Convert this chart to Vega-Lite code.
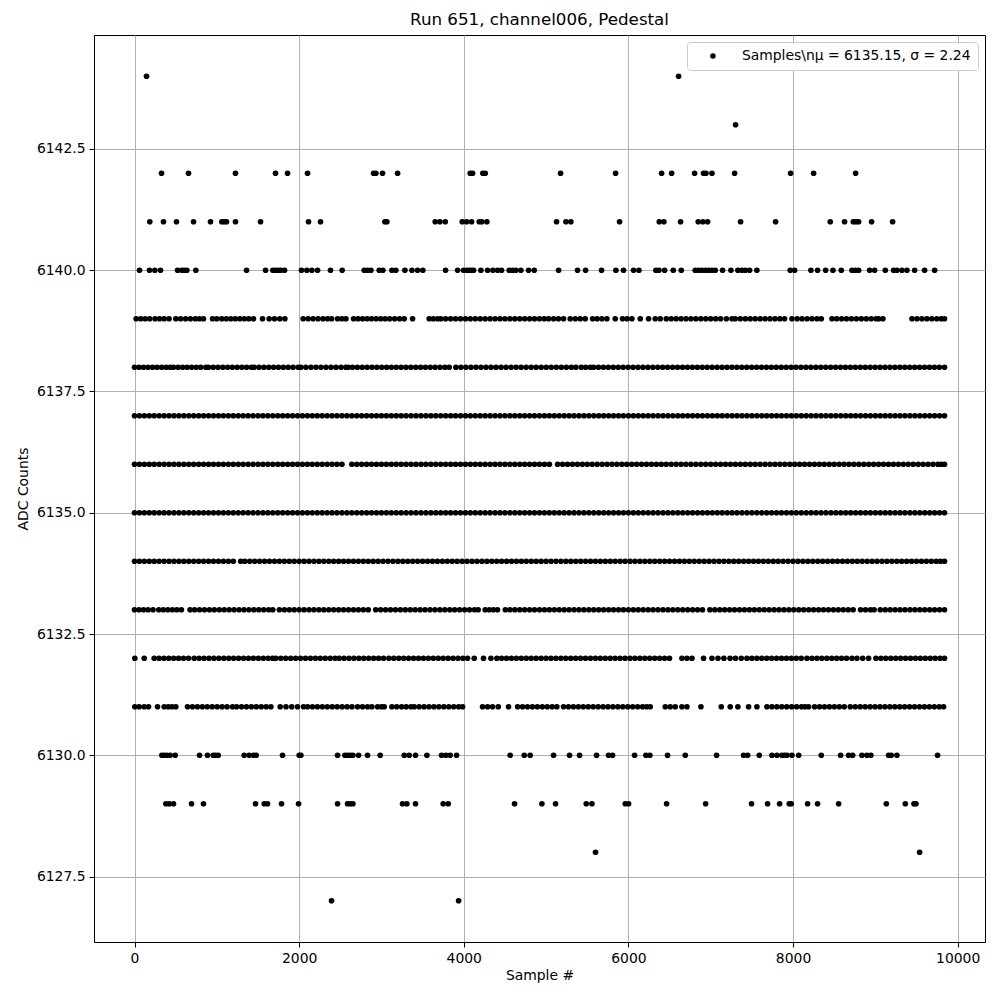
{
"$schema": "https://vega.github.io/schema/vega-lite/v6.json",
"width": 891, "height": 907,
"autosize": {"type": "none"},
"padding": {"left": 94, "top": 35, "right": 15, "bottom": 58},
"background": "white",
"title": {"text": "Run 651, channel006, Pedestal", "fontSize": 16.7, "fontWeight": "normal", "font": "DejaVu Sans", "color": "black", "offset": 6},
"config": {
"view": {"stroke": "black", "strokeWidth": 1},
"axis": {"grid": true, "gridColor": "#b0b0b0", "gridWidth": 1, "domainColor": "black", "tickColor": "black", "tickSize": 5, "labelFont": "DejaVu Sans", "labelFontSize": 13.9, "labelColor": "black", "titleFont": "DejaVu Sans", "titleFontSize": 13.9, "titleFontWeight": "normal", "titleColor": "black", "labelPadding": 4, "labelOverlap": false, "labelFlush": false}
},
"data": {"values": [
{"x":146,"y":6144},{"x":6610,"y":6144},{"x":7302,"y":6143},
{"x":328,"y":6142},{"x":656,"y":6142},{"x":1227,"y":6142},{"x":1713,"y":6142},{"x":1859,"y":6142},{"x":2102,"y":6142},{"x":2904,"y":6142},{"x":2932,"y":6142},{"x":3013,"y":6142},{"x":3196,"y":6142},{"x":4078,"y":6142},{"x":4107,"y":6142},{"x":4232,"y":6142},{"x":4261,"y":6142},{"x":5176,"y":6142},{"x":5844,"y":6142},{"x":6403,"y":6142},{"x":6525,"y":6142},{"x":6804,"y":6142},{"x":6913,"y":6142},{"x":6942,"y":6142},{"x":7015,"y":6142},{"x":7290,"y":6142},{"x":7970,"y":6142},{"x":8250,"y":6142},{"x":8760,"y":6142},
{"x":186,"y":6141},{"x":352,"y":6141},{"x":510,"y":6141},{"x":717,"y":6141},{"x":923,"y":6141},{"x":1061,"y":6141},{"x":1090,"y":6141},{"x":1118,"y":6141},{"x":1227,"y":6141},{"x":1531,"y":6141},{"x":2114,"y":6141},{"x":2260,"y":6141},{"x":3042,"y":6141},{"x":3066,"y":6141},{"x":3653,"y":6141},{"x":3710,"y":6141},{"x":3775,"y":6141},{"x":3981,"y":6141},{"x":4034,"y":6141},{"x":4095,"y":6141},{"x":4188,"y":6141},{"x":4220,"y":6141},{"x":4281,"y":6141},{"x":5127,"y":6141},{"x":5241,"y":6141},{"x":5301,"y":6141},{"x":5893,"y":6141},{"x":6375,"y":6141},{"x":6431,"y":6141},{"x":6634,"y":6141},{"x":6848,"y":6141},{"x":6905,"y":6141},{"x":6962,"y":6141},{"x":7363,"y":6141},{"x":7788,"y":6141},{"x":8452,"y":6141},{"x":8626,"y":6141},{"x":8732,"y":6141},{"x":8764,"y":6141},{"x":8797,"y":6141},{"x":8954,"y":6141},{"x":9210,"y":6141},
{"x":61,"y":6140},{"x":182,"y":6140},{"x":247,"y":6140},{"x":316,"y":6140},{"x":523,"y":6140},{"x":575,"y":6140},{"x":604,"y":6140},{"x":636,"y":6140},{"x":745,"y":6140},{"x":1361,"y":6140},{"x":1592,"y":6140},{"x":1681,"y":6140},{"x":1713,"y":6140},{"x":1746,"y":6140},{"x":1778,"y":6140},{"x":1823,"y":6140},{"x":2029,"y":6140},{"x":2094,"y":6140},{"x":2155,"y":6140},{"x":2224,"y":6140},{"x":2381,"y":6140},{"x":2523,"y":6140},{"x":2791,"y":6140},{"x":2831,"y":6140},{"x":2872,"y":6140},{"x":2973,"y":6140},{"x":3017,"y":6140},{"x":3127,"y":6140},{"x":3175,"y":6140},{"x":3285,"y":6140},{"x":3370,"y":6140},{"x":3439,"y":6140},{"x":3503,"y":6140},{"x":3779,"y":6140},{"x":3925,"y":6140},{"x":3997,"y":6140},{"x":4038,"y":6140},{"x":4066,"y":6140},{"x":4095,"y":6140},{"x":4119,"y":6140},{"x":4208,"y":6140},{"x":4289,"y":6140},{"x":4354,"y":6140},{"x":4411,"y":6140},{"x":4459,"y":6140},{"x":4552,"y":6140},{"x":4593,"y":6140},{"x":4633,"y":6140},{"x":4694,"y":6140},{"x":4787,"y":6140},{"x":4856,"y":6140},{"x":5152,"y":6140},{"x":5382,"y":6140},{"x":5480,"y":6140},{"x":5674,"y":6140},{"x":5848,"y":6140},{"x":5941,"y":6140},{"x":6063,"y":6140},{"x":6128,"y":6140},{"x":6334,"y":6140},{"x":6371,"y":6140},{"x":6440,"y":6140},{"x":6545,"y":6140},{"x":6642,"y":6140},{"x":6812,"y":6140},{"x":6853,"y":6140},{"x":6893,"y":6140},{"x":6934,"y":6140},{"x":6974,"y":6140},{"x":7015,"y":6140},{"x":7055,"y":6140},{"x":7144,"y":6140},{"x":7245,"y":6140},{"x":7330,"y":6140},{"x":7379,"y":6140},{"x":7420,"y":6140},{"x":7472,"y":6140},{"x":7561,"y":6140},{"x":7966,"y":6140},{"x":8019,"y":6140},{"x":8217,"y":6140},{"x":8298,"y":6140},{"x":8396,"y":6140},{"x":8485,"y":6140},{"x":8586,"y":6140},{"x":8716,"y":6140},{"x":8756,"y":6140},{"x":8797,"y":6140},{"x":8930,"y":6140},{"x":8991,"y":6140},{"x":9121,"y":6140},{"x":9222,"y":6140},{"x":9262,"y":6140},{"x":9323,"y":6140},{"x":9384,"y":6140},{"x":9477,"y":6140},{"x":9598,"y":6140},{"x":9720,"y":6140},
{"x":20,"y":6139},{"x":75,"y":6139},{"x":130,"y":6139},{"x":185,"y":6139},{"x":250,"y":6139},{"x":305,"y":6139},{"x":360,"y":6139},{"x":420,"y":6139},{"x":502,"y":6139},{"x":560,"y":6139},{"x":620,"y":6139},{"x":680,"y":6139},{"x":740,"y":6139},{"x":790,"y":6139},{"x":838,"y":6139},{"x":948,"y":6139},{"x":1000,"y":6139},{"x":1060,"y":6139},{"x":1115,"y":6139},{"x":1170,"y":6139},{"x":1225,"y":6139},{"x":1280,"y":6139},{"x":1335,"y":6139},{"x":1390,"y":6139},{"x":1446,"y":6139},{"x":1555,"y":6139},{"x":1636,"y":6139},{"x":1700,"y":6139},{"x":1765,"y":6139},{"x":1827,"y":6139},{"x":2049,"y":6139},{"x":2110,"y":6139},{"x":2170,"y":6139},{"x":2230,"y":6139},{"x":2290,"y":6139},{"x":2345,"y":6139},{"x":2394,"y":6139},{"x":2467,"y":6139},{"x":2520,"y":6139},{"x":2568,"y":6139},{"x":2661,"y":6139},{"x":2715,"y":6139},{"x":2770,"y":6139},{"x":2825,"y":6139},{"x":2880,"y":6139},{"x":2935,"y":6139},{"x":2990,"y":6139},{"x":3045,"y":6139},{"x":3100,"y":6139},{"x":3160,"y":6139},{"x":3220,"y":6139},{"x":3277,"y":6139},{"x":3378,"y":6139},{"x":3580,"y":6139},{"x":3630,"y":6139},{"x":3682,"y":6139},{"x":3722,"y":6139},{"x":3780,"y":6139},{"x":3840,"y":6139},{"x":3900,"y":6139},{"x":3960,"y":6139},{"x":4020,"y":6139},{"x":4080,"y":6139},{"x":4140,"y":6139},{"x":4200,"y":6139},{"x":4260,"y":6139},{"x":4320,"y":6139},{"x":4380,"y":6139},{"x":4440,"y":6139},{"x":4500,"y":6139},{"x":4560,"y":6139},{"x":4620,"y":6139},{"x":4680,"y":6139},{"x":4740,"y":6139},{"x":4800,"y":6139},{"x":4860,"y":6139},{"x":4920,"y":6139},{"x":4978,"y":6139},{"x":5030,"y":6139},{"x":5091,"y":6139},{"x":5150,"y":6139},{"x":5212,"y":6139},{"x":5293,"y":6139},{"x":5355,"y":6139},{"x":5415,"y":6139},{"x":5476,"y":6139},{"x":5565,"y":6139},{"x":5620,"y":6139},{"x":5678,"y":6139},{"x":5739,"y":6139},{"x":5840,"y":6139},{"x":5929,"y":6139},{"x":5985,"y":6139},{"x":6043,"y":6139},{"x":6144,"y":6139},{"x":6245,"y":6139},{"x":6326,"y":6139},{"x":6387,"y":6139},{"x":6460,"y":6139},{"x":6520,"y":6139},{"x":6580,"y":6139},{"x":6640,"y":6139},{"x":6700,"y":6139},{"x":6760,"y":6139},{"x":6820,"y":6139},{"x":6880,"y":6139},{"x":6940,"y":6139},{"x":7000,"y":6139},{"x":7060,"y":6139},{"x":7120,"y":6139},{"x":7190,"y":6139},{"x":7258,"y":6139},{"x":7298,"y":6139},{"x":7360,"y":6139},{"x":7420,"y":6139},{"x":7480,"y":6139},{"x":7540,"y":6139},{"x":7600,"y":6139},{"x":7660,"y":6139},{"x":7720,"y":6139},{"x":7780,"y":6139},{"x":7840,"y":6139},{"x":7897,"y":6139},{"x":7987,"y":6139},{"x":8050,"y":6139},{"x":8110,"y":6139},{"x":8170,"y":6139},{"x":8230,"y":6139},{"x":8290,"y":6139},{"x":8343,"y":6139},{"x":8473,"y":6139},{"x":8530,"y":6139},{"x":8590,"y":6139},{"x":8650,"y":6139},{"x":8710,"y":6139},{"x":8770,"y":6139},{"x":8830,"y":6139},{"x":8890,"y":6139},{"x":8950,"y":6139},{"x":9010,"y":6139},{"x":9040,"y":6139},{"x":9092,"y":6139},{"x":9445,"y":6139},{"x":9505,"y":6139},{"x":9565,"y":6139},{"x":9625,"y":6139},{"x":9685,"y":6139},{"x":9745,"y":6139},{"x":9800,"y":6139},{"x":9840,"y":6139},
{"x":0,"y":6138},{"x":55,"y":6138},{"x":110,"y":6138},{"x":165,"y":6138},{"x":220,"y":6138},{"x":275,"y":6138},{"x":330,"y":6138},{"x":385,"y":6138},{"x":433,"y":6138},{"x":474,"y":6138},{"x":530,"y":6138},{"x":585,"y":6138},{"x":640,"y":6138},{"x":695,"y":6138},{"x":750,"y":6138},{"x":805,"y":6138},{"x":867,"y":6138},{"x":899,"y":6138},{"x":957,"y":6138},{"x":1015,"y":6138},{"x":1073,"y":6138},{"x":1131,"y":6138},{"x":1189,"y":6138},{"x":1247,"y":6138},{"x":1305,"y":6138},{"x":1363,"y":6138},{"x":1422,"y":6138},{"x":1454,"y":6138},{"x":1513,"y":6138},{"x":1572,"y":6138},{"x":1631,"y":6138},{"x":1690,"y":6138},{"x":1749,"y":6138},{"x":1808,"y":6138},{"x":1867,"y":6138},{"x":1926,"y":6138},{"x":1989,"y":6138},{"x":2021,"y":6138},{"x":2082,"y":6138},{"x":2143,"y":6138},{"x":2204,"y":6138},{"x":2265,"y":6138},{"x":2326,"y":6138},{"x":2387,"y":6138},{"x":2448,"y":6138},{"x":2509,"y":6138},{"x":2568,"y":6138},{"x":2596,"y":6138},{"x":2649,"y":6138},{"x":2708,"y":6138},{"x":2767,"y":6138},{"x":2826,"y":6138},{"x":2885,"y":6138},{"x":2944,"y":6138},{"x":3003,"y":6138},{"x":3062,"y":6138},{"x":3121,"y":6138},{"x":3180,"y":6138},{"x":3239,"y":6138},{"x":3298,"y":6138},{"x":3357,"y":6138},{"x":3416,"y":6138},{"x":3475,"y":6138},{"x":3534,"y":6138},{"x":3593,"y":6138},{"x":3652,"y":6138},{"x":3711,"y":6138},{"x":3770,"y":6138},{"x":3823,"y":6138},{"x":3904,"y":6138},{"x":3965,"y":6138},{"x":4026,"y":6138},{"x":4087,"y":6138},{"x":4148,"y":6138},{"x":4209,"y":6138},{"x":4270,"y":6138},{"x":4331,"y":6138},{"x":4392,"y":6138},{"x":4453,"y":6138},{"x":4514,"y":6138},{"x":4575,"y":6138},{"x":4636,"y":6138},{"x":4697,"y":6138},{"x":4758,"y":6138},{"x":4819,"y":6138},{"x":4880,"y":6138},{"x":4941,"y":6138},{"x":5002,"y":6138},{"x":5063,"y":6138},{"x":5124,"y":6138},{"x":5185,"y":6138},{"x":5246,"y":6138},{"x":5307,"y":6138},{"x":5362,"y":6138},{"x":5427,"y":6138},{"x":5480,"y":6138},{"x":5536,"y":6138},{"x":5577,"y":6138},{"x":5637,"y":6138},{"x":5697,"y":6138},{"x":5757,"y":6138},{"x":5817,"y":6138},{"x":5877,"y":6138},{"x":5937,"y":6138},{"x":5997,"y":6138},{"x":6057,"y":6138},{"x":6117,"y":6138},{"x":6177,"y":6138},{"x":6237,"y":6138},{"x":6297,"y":6138},{"x":6357,"y":6138},{"x":6417,"y":6138},{"x":6477,"y":6138},{"x":6537,"y":6138},{"x":6597,"y":6138},{"x":6657,"y":6138},{"x":6717,"y":6138},{"x":6777,"y":6138},{"x":6837,"y":6138},{"x":6897,"y":6138},{"x":6957,"y":6138},{"x":7017,"y":6138},{"x":7077,"y":6138},{"x":7137,"y":6138},{"x":7197,"y":6138},{"x":7257,"y":6138},{"x":7317,"y":6138},{"x":7377,"y":6138},{"x":7437,"y":6138},{"x":7497,"y":6138},{"x":7557,"y":6138},{"x":7617,"y":6138},{"x":7677,"y":6138},{"x":7737,"y":6138},{"x":7797,"y":6138},{"x":7857,"y":6138},{"x":7917,"y":6138},{"x":7977,"y":6138},{"x":8037,"y":6138},{"x":8097,"y":6138},{"x":8157,"y":6138},{"x":8217,"y":6138},{"x":8277,"y":6138},{"x":8337,"y":6138},{"x":8397,"y":6138},{"x":8457,"y":6138},{"x":8517,"y":6138},{"x":8577,"y":6138},{"x":8637,"y":6138},{"x":8697,"y":6138},{"x":8757,"y":6138},{"x":8817,"y":6138},{"x":8877,"y":6138},{"x":8937,"y":6138},{"x":8997,"y":6138},{"x":9057,"y":6138},{"x":9117,"y":6138},{"x":9177,"y":6138},{"x":9237,"y":6138},{"x":9297,"y":6138},{"x":9357,"y":6138},{"x":9417,"y":6138},{"x":9477,"y":6138},{"x":9537,"y":6138},{"x":9597,"y":6138},{"x":9657,"y":6138},{"x":9717,"y":6138},{"x":9777,"y":6138},{"x":9840,"y":6138},
{"x":0,"y":6137},{"x":60,"y":6137},{"x":120,"y":6137},{"x":180,"y":6137},{"x":240,"y":6137},{"x":300,"y":6137},{"x":360,"y":6137},{"x":420,"y":6137},{"x":480,"y":6137},{"x":540,"y":6137},{"x":600,"y":6137},{"x":660,"y":6137},{"x":720,"y":6137},{"x":780,"y":6137},{"x":840,"y":6137},{"x":900,"y":6137},{"x":960,"y":6137},{"x":1020,"y":6137},{"x":1080,"y":6137},{"x":1140,"y":6137},{"x":1200,"y":6137},{"x":1260,"y":6137},{"x":1320,"y":6137},{"x":1380,"y":6137},{"x":1440,"y":6137},{"x":1500,"y":6137},{"x":1560,"y":6137},{"x":1620,"y":6137},{"x":1680,"y":6137},{"x":1740,"y":6137},{"x":1800,"y":6137},{"x":1860,"y":6137},{"x":1920,"y":6137},{"x":1980,"y":6137},{"x":2040,"y":6137},{"x":2100,"y":6137},{"x":2160,"y":6137},{"x":2220,"y":6137},{"x":2280,"y":6137},{"x":2340,"y":6137},{"x":2400,"y":6137},{"x":2460,"y":6137},{"x":2520,"y":6137},{"x":2580,"y":6137},{"x":2640,"y":6137},{"x":2700,"y":6137},{"x":2760,"y":6137},{"x":2820,"y":6137},{"x":2880,"y":6137},{"x":2940,"y":6137},{"x":3000,"y":6137},{"x":3060,"y":6137},{"x":3120,"y":6137},{"x":3180,"y":6137},{"x":3240,"y":6137},{"x":3300,"y":6137},{"x":3360,"y":6137},{"x":3420,"y":6137},{"x":3480,"y":6137},{"x":3540,"y":6137},{"x":3600,"y":6137},{"x":3660,"y":6137},{"x":3720,"y":6137},{"x":3780,"y":6137},{"x":3840,"y":6137},{"x":3900,"y":6137},{"x":3960,"y":6137},{"x":4020,"y":6137},{"x":4080,"y":6137},{"x":4140,"y":6137},{"x":4200,"y":6137},{"x":4260,"y":6137},{"x":4320,"y":6137},{"x":4380,"y":6137},{"x":4440,"y":6137},{"x":4500,"y":6137},{"x":4560,"y":6137},{"x":4620,"y":6137},{"x":4680,"y":6137},{"x":4740,"y":6137},{"x":4800,"y":6137},{"x":4860,"y":6137},{"x":4920,"y":6137},{"x":4980,"y":6137},{"x":5040,"y":6137},{"x":5100,"y":6137},{"x":5160,"y":6137},{"x":5220,"y":6137},{"x":5280,"y":6137},{"x":5340,"y":6137},{"x":5400,"y":6137},{"x":5460,"y":6137},{"x":5520,"y":6137},{"x":5580,"y":6137},{"x":5640,"y":6137},{"x":5700,"y":6137},{"x":5760,"y":6137},{"x":5820,"y":6137},{"x":5880,"y":6137},{"x":5940,"y":6137},{"x":6000,"y":6137},{"x":6060,"y":6137},{"x":6120,"y":6137},{"x":6180,"y":6137},{"x":6240,"y":6137},{"x":6300,"y":6137},{"x":6360,"y":6137},{"x":6420,"y":6137},{"x":6480,"y":6137},{"x":6540,"y":6137},{"x":6600,"y":6137},{"x":6660,"y":6137},{"x":6720,"y":6137},{"x":6780,"y":6137},{"x":6840,"y":6137},{"x":6900,"y":6137},{"x":6960,"y":6137},{"x":7020,"y":6137},{"x":7080,"y":6137},{"x":7140,"y":6137},{"x":7200,"y":6137},{"x":7260,"y":6137},{"x":7320,"y":6137},{"x":7380,"y":6137},{"x":7440,"y":6137},{"x":7500,"y":6137},{"x":7560,"y":6137},{"x":7620,"y":6137},{"x":7680,"y":6137},{"x":7740,"y":6137},{"x":7800,"y":6137},{"x":7860,"y":6137},{"x":7920,"y":6137},{"x":7980,"y":6137},{"x":8040,"y":6137},{"x":8100,"y":6137},{"x":8160,"y":6137},{"x":8220,"y":6137},{"x":8280,"y":6137},{"x":8340,"y":6137},{"x":8400,"y":6137},{"x":8460,"y":6137},{"x":8520,"y":6137},{"x":8580,"y":6137},{"x":8640,"y":6137},{"x":8700,"y":6137},{"x":8760,"y":6137},{"x":8820,"y":6137},{"x":8880,"y":6137},{"x":8940,"y":6137},{"x":9000,"y":6137},{"x":9060,"y":6137},{"x":9120,"y":6137},{"x":9180,"y":6137},{"x":9240,"y":6137},{"x":9300,"y":6137},{"x":9360,"y":6137},{"x":9420,"y":6137},{"x":9480,"y":6137},{"x":9540,"y":6137},{"x":9600,"y":6137},{"x":9660,"y":6137},{"x":9720,"y":6137},{"x":9780,"y":6137},{"x":9840,"y":6137},
{"x":0,"y":6136},{"x":60,"y":6136},{"x":120,"y":6136},{"x":180,"y":6136},{"x":240,"y":6136},{"x":300,"y":6136},{"x":360,"y":6136},{"x":420,"y":6136},{"x":480,"y":6136},{"x":540,"y":6136},{"x":600,"y":6136},{"x":660,"y":6136},{"x":720,"y":6136},{"x":780,"y":6136},{"x":840,"y":6136},{"x":900,"y":6136},{"x":960,"y":6136},{"x":1020,"y":6136},{"x":1080,"y":6136},{"x":1140,"y":6136},{"x":1200,"y":6136},{"x":1260,"y":6136},{"x":1320,"y":6136},{"x":1380,"y":6136},{"x":1440,"y":6136},{"x":1500,"y":6136},{"x":1560,"y":6136},{"x":1620,"y":6136},{"x":1680,"y":6136},{"x":1740,"y":6136},{"x":1800,"y":6136},{"x":1860,"y":6136},{"x":1920,"y":6136},{"x":1980,"y":6136},{"x":2040,"y":6136},{"x":2100,"y":6136},{"x":2160,"y":6136},{"x":2220,"y":6136},{"x":2280,"y":6136},{"x":2340,"y":6136},{"x":2400,"y":6136},{"x":2460,"y":6136},{"x":2520,"y":6136},{"x":2640,"y":6136},{"x":2700,"y":6136},{"x":2760,"y":6136},{"x":2820,"y":6136},{"x":2880,"y":6136},{"x":2940,"y":6136},{"x":3000,"y":6136},{"x":3060,"y":6136},{"x":3120,"y":6136},{"x":3180,"y":6136},{"x":3240,"y":6136},{"x":3300,"y":6136},{"x":3360,"y":6136},{"x":3420,"y":6136},{"x":3480,"y":6136},{"x":3540,"y":6136},{"x":3600,"y":6136},{"x":3660,"y":6136},{"x":3720,"y":6136},{"x":3780,"y":6136},{"x":3840,"y":6136},{"x":3900,"y":6136},{"x":3960,"y":6136},{"x":4020,"y":6136},{"x":4080,"y":6136},{"x":4140,"y":6136},{"x":4200,"y":6136},{"x":4260,"y":6136},{"x":4320,"y":6136},{"x":4380,"y":6136},{"x":4440,"y":6136},{"x":4500,"y":6136},{"x":4560,"y":6136},{"x":4620,"y":6136},{"x":4680,"y":6136},{"x":4740,"y":6136},{"x":4800,"y":6136},{"x":4860,"y":6136},{"x":4920,"y":6136},{"x":4980,"y":6136},{"x":5040,"y":6136},{"x":5140,"y":6136},{"x":5200,"y":6136},{"x":5260,"y":6136},{"x":5320,"y":6136},{"x":5380,"y":6136},{"x":5440,"y":6136},{"x":5500,"y":6136},{"x":5560,"y":6136},{"x":5620,"y":6136},{"x":5680,"y":6136},{"x":5740,"y":6136},{"x":5800,"y":6136},{"x":5860,"y":6136},{"x":5920,"y":6136},{"x":5980,"y":6136},{"x":6040,"y":6136},{"x":6100,"y":6136},{"x":6160,"y":6136},{"x":6220,"y":6136},{"x":6280,"y":6136},{"x":6340,"y":6136},{"x":6400,"y":6136},{"x":6460,"y":6136},{"x":6520,"y":6136},{"x":6580,"y":6136},{"x":6640,"y":6136},{"x":6700,"y":6136},{"x":6760,"y":6136},{"x":6820,"y":6136},{"x":6880,"y":6136},{"x":6940,"y":6136},{"x":7000,"y":6136},{"x":7060,"y":6136},{"x":7120,"y":6136},{"x":7180,"y":6136},{"x":7240,"y":6136},{"x":7300,"y":6136},{"x":7360,"y":6136},{"x":7420,"y":6136},{"x":7480,"y":6136},{"x":7540,"y":6136},{"x":7600,"y":6136},{"x":7660,"y":6136},{"x":7720,"y":6136},{"x":7780,"y":6136},{"x":7840,"y":6136},{"x":7900,"y":6136},{"x":7960,"y":6136},{"x":8020,"y":6136},{"x":8080,"y":6136},{"x":8140,"y":6136},{"x":8200,"y":6136},{"x":8260,"y":6136},{"x":8320,"y":6136},{"x":8380,"y":6136},{"x":8440,"y":6136},{"x":8500,"y":6136},{"x":8560,"y":6136},{"x":8620,"y":6136},{"x":8680,"y":6136},{"x":8740,"y":6136},{"x":8800,"y":6136},{"x":8860,"y":6136},{"x":8920,"y":6136},{"x":8980,"y":6136},{"x":9040,"y":6136},{"x":9100,"y":6136},{"x":9160,"y":6136},{"x":9220,"y":6136},{"x":9280,"y":6136},{"x":9340,"y":6136},{"x":9400,"y":6136},{"x":9460,"y":6136},{"x":9520,"y":6136},{"x":9580,"y":6136},{"x":9640,"y":6136},{"x":9700,"y":6136},{"x":9760,"y":6136},{"x":9840,"y":6136},{"x":9800,"y":6136},
{"x":0,"y":6135},{"x":60,"y":6135},{"x":120,"y":6135},{"x":180,"y":6135},{"x":240,"y":6135},{"x":300,"y":6135},{"x":360,"y":6135},{"x":420,"y":6135},{"x":480,"y":6135},{"x":540,"y":6135},{"x":600,"y":6135},{"x":660,"y":6135},{"x":720,"y":6135},{"x":780,"y":6135},{"x":840,"y":6135},{"x":900,"y":6135},{"x":960,"y":6135},{"x":1020,"y":6135},{"x":1080,"y":6135},{"x":1140,"y":6135},{"x":1200,"y":6135},{"x":1260,"y":6135},{"x":1320,"y":6135},{"x":1380,"y":6135},{"x":1440,"y":6135},{"x":1500,"y":6135},{"x":1560,"y":6135},{"x":1620,"y":6135},{"x":1680,"y":6135},{"x":1740,"y":6135},{"x":1800,"y":6135},{"x":1860,"y":6135},{"x":1920,"y":6135},{"x":1980,"y":6135},{"x":2040,"y":6135},{"x":2100,"y":6135},{"x":2160,"y":6135},{"x":2220,"y":6135},{"x":2280,"y":6135},{"x":2340,"y":6135},{"x":2400,"y":6135},{"x":2460,"y":6135},{"x":2520,"y":6135},{"x":2580,"y":6135},{"x":2640,"y":6135},{"x":2700,"y":6135},{"x":2760,"y":6135},{"x":2820,"y":6135},{"x":2880,"y":6135},{"x":2940,"y":6135},{"x":3000,"y":6135},{"x":3060,"y":6135},{"x":3120,"y":6135},{"x":3180,"y":6135},{"x":3240,"y":6135},{"x":3300,"y":6135},{"x":3360,"y":6135},{"x":3420,"y":6135},{"x":3480,"y":6135},{"x":3540,"y":6135},{"x":3600,"y":6135},{"x":3660,"y":6135},{"x":3720,"y":6135},{"x":3780,"y":6135},{"x":3840,"y":6135},{"x":3900,"y":6135},{"x":3960,"y":6135},{"x":4020,"y":6135},{"x":4080,"y":6135},{"x":4140,"y":6135},{"x":4200,"y":6135},{"x":4260,"y":6135},{"x":4320,"y":6135},{"x":4380,"y":6135},{"x":4440,"y":6135},{"x":4500,"y":6135},{"x":4560,"y":6135},{"x":4620,"y":6135},{"x":4680,"y":6135},{"x":4740,"y":6135},{"x":4800,"y":6135},{"x":4860,"y":6135},{"x":4920,"y":6135},{"x":4980,"y":6135},{"x":5040,"y":6135},{"x":5100,"y":6135},{"x":5160,"y":6135},{"x":5220,"y":6135},{"x":5280,"y":6135},{"x":5340,"y":6135},{"x":5400,"y":6135},{"x":5460,"y":6135},{"x":5520,"y":6135},{"x":5580,"y":6135},{"x":5640,"y":6135},{"x":5700,"y":6135},{"x":5760,"y":6135},{"x":5820,"y":6135},{"x":5880,"y":6135},{"x":5940,"y":6135},{"x":6000,"y":6135},{"x":6060,"y":6135},{"x":6120,"y":6135},{"x":6180,"y":6135},{"x":6240,"y":6135},{"x":6300,"y":6135},{"x":6360,"y":6135},{"x":6420,"y":6135},{"x":6480,"y":6135},{"x":6540,"y":6135},{"x":6600,"y":6135},{"x":6660,"y":6135},{"x":6720,"y":6135},{"x":6780,"y":6135},{"x":6840,"y":6135},{"x":6900,"y":6135},{"x":6960,"y":6135},{"x":7020,"y":6135},{"x":7080,"y":6135},{"x":7140,"y":6135},{"x":7200,"y":6135},{"x":7260,"y":6135},{"x":7320,"y":6135},{"x":7380,"y":6135},{"x":7440,"y":6135},{"x":7500,"y":6135},{"x":7560,"y":6135},{"x":7620,"y":6135},{"x":7680,"y":6135},{"x":7740,"y":6135},{"x":7800,"y":6135},{"x":7860,"y":6135},{"x":7920,"y":6135},{"x":7980,"y":6135},{"x":8040,"y":6135},{"x":8100,"y":6135},{"x":8160,"y":6135},{"x":8220,"y":6135},{"x":8280,"y":6135},{"x":8340,"y":6135},{"x":8400,"y":6135},{"x":8460,"y":6135},{"x":8520,"y":6135},{"x":8580,"y":6135},{"x":8640,"y":6135},{"x":8700,"y":6135},{"x":8760,"y":6135},{"x":8820,"y":6135},{"x":8880,"y":6135},{"x":8940,"y":6135},{"x":9000,"y":6135},{"x":9060,"y":6135},{"x":9120,"y":6135},{"x":9180,"y":6135},{"x":9240,"y":6135},{"x":9300,"y":6135},{"x":9360,"y":6135},{"x":9420,"y":6135},{"x":9480,"y":6135},{"x":9540,"y":6135},{"x":9600,"y":6135},{"x":9660,"y":6135},{"x":9720,"y":6135},{"x":9780,"y":6135},{"x":9840,"y":6135},
{"x":0,"y":6134},{"x":60,"y":6134},{"x":120,"y":6134},{"x":180,"y":6134},{"x":240,"y":6134},{"x":300,"y":6134},{"x":360,"y":6134},{"x":420,"y":6134},{"x":480,"y":6134},{"x":540,"y":6134},{"x":600,"y":6134},{"x":660,"y":6134},{"x":720,"y":6134},{"x":780,"y":6134},{"x":840,"y":6134},{"x":900,"y":6134},{"x":960,"y":6134},{"x":1020,"y":6134},{"x":1080,"y":6134},{"x":1140,"y":6134},{"x":1200,"y":6134},{"x":1290,"y":6134},{"x":1340,"y":6134},{"x":1400,"y":6134},{"x":1460,"y":6134},{"x":1520,"y":6134},{"x":1580,"y":6134},{"x":1640,"y":6134},{"x":1700,"y":6134},{"x":1760,"y":6134},{"x":1820,"y":6134},{"x":1880,"y":6134},{"x":1940,"y":6134},{"x":2000,"y":6134},{"x":2060,"y":6134},{"x":2120,"y":6134},{"x":2180,"y":6134},{"x":2240,"y":6134},{"x":2300,"y":6134},{"x":2360,"y":6134},{"x":2420,"y":6134},{"x":2480,"y":6134},{"x":2540,"y":6134},{"x":2600,"y":6134},{"x":2660,"y":6134},{"x":2720,"y":6134},{"x":2780,"y":6134},{"x":2840,"y":6134},{"x":2900,"y":6134},{"x":2960,"y":6134},{"x":3020,"y":6134},{"x":3080,"y":6134},{"x":3140,"y":6134},{"x":3200,"y":6134},{"x":3260,"y":6134},{"x":3320,"y":6134},{"x":3380,"y":6134},{"x":3440,"y":6134},{"x":3500,"y":6134},{"x":3560,"y":6134},{"x":3620,"y":6134},{"x":3680,"y":6134},{"x":3740,"y":6134},{"x":3800,"y":6134},{"x":3860,"y":6134},{"x":3920,"y":6134},{"x":3980,"y":6134},{"x":4040,"y":6134},{"x":4100,"y":6134},{"x":4160,"y":6134},{"x":4220,"y":6134},{"x":4280,"y":6134},{"x":4340,"y":6134},{"x":4400,"y":6134},{"x":4460,"y":6134},{"x":4520,"y":6134},{"x":4580,"y":6134},{"x":4640,"y":6134},{"x":4700,"y":6134},{"x":4760,"y":6134},{"x":4820,"y":6134},{"x":4880,"y":6134},{"x":4940,"y":6134},{"x":5000,"y":6134},{"x":5060,"y":6134},{"x":5120,"y":6134},{"x":5180,"y":6134},{"x":5240,"y":6134},{"x":5300,"y":6134},{"x":5360,"y":6134},{"x":5420,"y":6134},{"x":5480,"y":6134},{"x":5540,"y":6134},{"x":5600,"y":6134},{"x":5660,"y":6134},{"x":5720,"y":6134},{"x":5780,"y":6134},{"x":5840,"y":6134},{"x":5900,"y":6134},{"x":5960,"y":6134},{"x":6020,"y":6134},{"x":6080,"y":6134},{"x":6140,"y":6134},{"x":6200,"y":6134},{"x":6260,"y":6134},{"x":6320,"y":6134},{"x":6380,"y":6134},{"x":6440,"y":6134},{"x":6500,"y":6134},{"x":6560,"y":6134},{"x":6620,"y":6134},{"x":6680,"y":6134},{"x":6740,"y":6134},{"x":6800,"y":6134},{"x":6860,"y":6134},{"x":6920,"y":6134},{"x":6980,"y":6134},{"x":7040,"y":6134},{"x":7100,"y":6134},{"x":7160,"y":6134},{"x":7220,"y":6134},{"x":7280,"y":6134},{"x":7340,"y":6134},{"x":7400,"y":6134},{"x":7460,"y":6134},{"x":7520,"y":6134},{"x":7580,"y":6134},{"x":7640,"y":6134},{"x":7700,"y":6134},{"x":7760,"y":6134},{"x":7820,"y":6134},{"x":7880,"y":6134},{"x":7940,"y":6134},{"x":8000,"y":6134},{"x":8060,"y":6134},{"x":8120,"y":6134},{"x":8180,"y":6134},{"x":8240,"y":6134},{"x":8300,"y":6134},{"x":8360,"y":6134},{"x":8420,"y":6134},{"x":8480,"y":6134},{"x":8540,"y":6134},{"x":8600,"y":6134},{"x":8660,"y":6134},{"x":8720,"y":6134},{"x":8780,"y":6134},{"x":8840,"y":6134},{"x":8900,"y":6134},{"x":8960,"y":6134},{"x":9020,"y":6134},{"x":9080,"y":6134},{"x":9140,"y":6134},{"x":9200,"y":6134},{"x":9260,"y":6134},{"x":9320,"y":6134},{"x":9380,"y":6134},{"x":9440,"y":6134},{"x":9500,"y":6134},{"x":9560,"y":6134},{"x":9620,"y":6134},{"x":9680,"y":6134},{"x":9740,"y":6134},{"x":9790,"y":6134},{"x":9840,"y":6134},
{"x":0,"y":6133},{"x":55,"y":6133},{"x":110,"y":6133},{"x":165,"y":6133},{"x":225,"y":6133},{"x":295,"y":6133},{"x":350,"y":6133},{"x":405,"y":6133},{"x":460,"y":6133},{"x":515,"y":6133},{"x":570,"y":6133},{"x":675,"y":6133},{"x":730,"y":6133},{"x":790,"y":6133},{"x":850,"y":6133},{"x":910,"y":6133},{"x":970,"y":6133},{"x":1030,"y":6133},{"x":1090,"y":6133},{"x":1150,"y":6133},{"x":1210,"y":6133},{"x":1270,"y":6133},{"x":1330,"y":6133},{"x":1390,"y":6133},{"x":1450,"y":6133},{"x":1510,"y":6133},{"x":1570,"y":6133},{"x":1630,"y":6133},{"x":1680,"y":6133},{"x":1760,"y":6133},{"x":1820,"y":6133},{"x":1880,"y":6133},{"x":1940,"y":6133},{"x":2000,"y":6133},{"x":2060,"y":6133},{"x":2120,"y":6133},{"x":2180,"y":6133},{"x":2240,"y":6133},{"x":2300,"y":6133},{"x":2360,"y":6133},{"x":2420,"y":6133},{"x":2480,"y":6133},{"x":2540,"y":6133},{"x":2600,"y":6133},{"x":2660,"y":6133},{"x":2720,"y":6133},{"x":2780,"y":6133},{"x":2840,"y":6133},{"x":2930,"y":6133},{"x":2990,"y":6133},{"x":3050,"y":6133},{"x":3110,"y":6133},{"x":3170,"y":6133},{"x":3230,"y":6133},{"x":3290,"y":6133},{"x":3350,"y":6133},{"x":3410,"y":6133},{"x":3470,"y":6133},{"x":3530,"y":6133},{"x":3590,"y":6133},{"x":3650,"y":6133},{"x":3710,"y":6133},{"x":3770,"y":6133},{"x":3830,"y":6133},{"x":3890,"y":6133},{"x":3950,"y":6133},{"x":4010,"y":6133},{"x":4070,"y":6133},{"x":4130,"y":6133},{"x":4175,"y":6133},{"x":4260,"y":6133},{"x":4310,"y":6133},{"x":4360,"y":6133},{"x":4410,"y":6133},{"x":4505,"y":6133},{"x":4560,"y":6133},{"x":4620,"y":6133},{"x":4680,"y":6133},{"x":4740,"y":6133},{"x":4800,"y":6133},{"x":4860,"y":6133},{"x":4920,"y":6133},{"x":4980,"y":6133},{"x":5040,"y":6133},{"x":5100,"y":6133},{"x":5160,"y":6133},{"x":5220,"y":6133},{"x":5280,"y":6133},{"x":5340,"y":6133},{"x":5400,"y":6133},{"x":5460,"y":6133},{"x":5520,"y":6133},{"x":5580,"y":6133},{"x":5640,"y":6133},{"x":5700,"y":6133},{"x":5760,"y":6133},{"x":5820,"y":6133},{"x":5880,"y":6133},{"x":5940,"y":6133},{"x":6000,"y":6133},{"x":6060,"y":6133},{"x":6120,"y":6133},{"x":6180,"y":6133},{"x":6240,"y":6133},{"x":6300,"y":6133},{"x":6360,"y":6133},{"x":6420,"y":6133},{"x":6480,"y":6133},{"x":6540,"y":6133},{"x":6600,"y":6133},{"x":6660,"y":6133},{"x":6720,"y":6133},{"x":6780,"y":6133},{"x":6840,"y":6133},{"x":6900,"y":6133},{"x":6990,"y":6133},{"x":7050,"y":6133},{"x":7110,"y":6133},{"x":7170,"y":6133},{"x":7230,"y":6133},{"x":7290,"y":6133},{"x":7350,"y":6133},{"x":7410,"y":6133},{"x":7470,"y":6133},{"x":7530,"y":6133},{"x":7590,"y":6133},{"x":7650,"y":6133},{"x":7710,"y":6133},{"x":7770,"y":6133},{"x":7830,"y":6133},{"x":7890,"y":6133},{"x":7950,"y":6133},{"x":8010,"y":6133},{"x":8070,"y":6133},{"x":8130,"y":6133},{"x":8190,"y":6133},{"x":8250,"y":6133},{"x":8310,"y":6133},{"x":8370,"y":6133},{"x":8430,"y":6133},{"x":8490,"y":6133},{"x":8550,"y":6133},{"x":8610,"y":6133},{"x":8670,"y":6133},{"x":8730,"y":6133},{"x":8820,"y":6133},{"x":8880,"y":6133},{"x":8940,"y":6133},{"x":8985,"y":6133},{"x":9060,"y":6133},{"x":9120,"y":6133},{"x":9180,"y":6133},{"x":9240,"y":6133},{"x":9300,"y":6133},{"x":9360,"y":6133},{"x":9420,"y":6133},{"x":9480,"y":6133},{"x":9540,"y":6133},{"x":9600,"y":6133},{"x":9660,"y":6133},{"x":9720,"y":6133},{"x":9780,"y":6133},{"x":9840,"y":6133},
{"x":4,"y":6132},{"x":118,"y":6132},{"x":239,"y":6132},{"x":298,"y":6132},{"x":357,"y":6132},{"x":416,"y":6132},{"x":475,"y":6132},{"x":535,"y":6132},{"x":595,"y":6132},{"x":656,"y":6132},{"x":725,"y":6132},{"x":785,"y":6132},{"x":845,"y":6132},{"x":905,"y":6132},{"x":965,"y":6132},{"x":1025,"y":6132},{"x":1085,"y":6132},{"x":1145,"y":6132},{"x":1205,"y":6132},{"x":1265,"y":6132},{"x":1325,"y":6132},{"x":1385,"y":6132},{"x":1445,"y":6132},{"x":1505,"y":6132},{"x":1565,"y":6132},{"x":1625,"y":6132},{"x":1677,"y":6132},{"x":1717,"y":6132},{"x":1777,"y":6132},{"x":1837,"y":6132},{"x":1897,"y":6132},{"x":1957,"y":6132},{"x":2017,"y":6132},{"x":2077,"y":6132},{"x":2137,"y":6132},{"x":2197,"y":6132},{"x":2257,"y":6132},{"x":2317,"y":6132},{"x":2377,"y":6132},{"x":2437,"y":6132},{"x":2487,"y":6132},{"x":2545,"y":6132},{"x":2605,"y":6132},{"x":2665,"y":6132},{"x":2725,"y":6132},{"x":2785,"y":6132},{"x":2845,"y":6132},{"x":2905,"y":6132},{"x":2965,"y":6132},{"x":3025,"y":6132},{"x":3090,"y":6132},{"x":3150,"y":6132},{"x":3210,"y":6132},{"x":3270,"y":6132},{"x":3330,"y":6132},{"x":3390,"y":6132},{"x":3450,"y":6132},{"x":3510,"y":6132},{"x":3570,"y":6132},{"x":3630,"y":6132},{"x":3690,"y":6132},{"x":3750,"y":6132},{"x":3810,"y":6132},{"x":3870,"y":6132},{"x":3930,"y":6132},{"x":3990,"y":6132},{"x":4046,"y":6132},{"x":4127,"y":6132},{"x":4240,"y":6132},{"x":4330,"y":6132},{"x":4402,"y":6132},{"x":4459,"y":6132},{"x":4519,"y":6132},{"x":4579,"y":6132},{"x":4639,"y":6132},{"x":4699,"y":6132},{"x":4759,"y":6132},{"x":4819,"y":6132},{"x":4879,"y":6132},{"x":4939,"y":6132},{"x":4999,"y":6132},{"x":5059,"y":6132},{"x":5119,"y":6132},{"x":5179,"y":6132},{"x":5239,"y":6132},{"x":5299,"y":6132},{"x":5359,"y":6132},{"x":5419,"y":6132},{"x":5479,"y":6132},{"x":5539,"y":6132},{"x":5599,"y":6132},{"x":5659,"y":6132},{"x":5719,"y":6132},{"x":5779,"y":6132},{"x":5839,"y":6132},{"x":5899,"y":6132},{"x":5959,"y":6132},{"x":6019,"y":6132},{"x":6079,"y":6132},{"x":6139,"y":6132},{"x":6199,"y":6132},{"x":6259,"y":6132},{"x":6319,"y":6132},{"x":6379,"y":6132},{"x":6439,"y":6132},{"x":6499,"y":6132},{"x":6650,"y":6132},{"x":6711,"y":6132},{"x":6772,"y":6132},{"x":6913,"y":6132},{"x":7015,"y":6132},{"x":7088,"y":6132},{"x":7160,"y":6132},{"x":7235,"y":6132},{"x":7300,"y":6132},{"x":7371,"y":6132},{"x":7440,"y":6132},{"x":7500,"y":6132},{"x":7560,"y":6132},{"x":7620,"y":6132},{"x":7680,"y":6132},{"x":7740,"y":6132},{"x":7800,"y":6132},{"x":7860,"y":6132},{"x":7920,"y":6132},{"x":7980,"y":6132},{"x":8040,"y":6132},{"x":8100,"y":6132},{"x":8169,"y":6132},{"x":8230,"y":6132},{"x":8290,"y":6132},{"x":8350,"y":6132},{"x":8410,"y":6132},{"x":8470,"y":6132},{"x":8530,"y":6132},{"x":8590,"y":6132},{"x":8650,"y":6132},{"x":8716,"y":6132},{"x":8776,"y":6132},{"x":8846,"y":6132},{"x":8918,"y":6132},{"x":9007,"y":6132},{"x":9067,"y":6132},{"x":9127,"y":6132},{"x":9187,"y":6132},{"x":9247,"y":6132},{"x":9307,"y":6132},{"x":9367,"y":6132},{"x":9427,"y":6132},{"x":9487,"y":6132},{"x":9547,"y":6132},{"x":9607,"y":6132},{"x":9667,"y":6132},{"x":9727,"y":6132},{"x":9787,"y":6132},{"x":9840,"y":6132},
{"x":4,"y":6131},{"x":57,"y":6131},{"x":118,"y":6131},{"x":170,"y":6131},{"x":280,"y":6131},{"x":361,"y":6131},{"x":410,"y":6131},{"x":455,"y":6131},{"x":502,"y":6131},{"x":644,"y":6131},{"x":704,"y":6131},{"x":764,"y":6131},{"x":824,"y":6131},{"x":884,"y":6131},{"x":944,"y":6131},{"x":1004,"y":6131},{"x":1064,"y":6131},{"x":1124,"y":6131},{"x":1191,"y":6131},{"x":1240,"y":6131},{"x":1300,"y":6131},{"x":1360,"y":6131},{"x":1420,"y":6131},{"x":1480,"y":6131},{"x":1540,"y":6131},{"x":1600,"y":6131},{"x":1657,"y":6131},{"x":1770,"y":6131},{"x":1840,"y":6131},{"x":1910,"y":6131},{"x":1980,"y":6131},{"x":2053,"y":6131},{"x":2102,"y":6131},{"x":2162,"y":6131},{"x":2222,"y":6131},{"x":2282,"y":6131},{"x":2342,"y":6131},{"x":2402,"y":6131},{"x":2462,"y":6131},{"x":2522,"y":6131},{"x":2582,"y":6131},{"x":2642,"y":6131},{"x":2710,"y":6131},{"x":2770,"y":6131},{"x":2831,"y":6131},{"x":2884,"y":6131},{"x":2953,"y":6131},{"x":3000,"y":6131},{"x":3034,"y":6131},{"x":3127,"y":6131},{"x":3185,"y":6131},{"x":3245,"y":6131},{"x":3300,"y":6131},{"x":3358,"y":6131},{"x":3398,"y":6131},{"x":3458,"y":6131},{"x":3518,"y":6131},{"x":3578,"y":6131},{"x":3638,"y":6131},{"x":3698,"y":6131},{"x":3758,"y":6131},{"x":3818,"y":6131},{"x":3878,"y":6131},{"x":3938,"y":6131},{"x":3985,"y":6131},{"x":4228,"y":6131},{"x":4289,"y":6131},{"x":4350,"y":6131},{"x":4419,"y":6131},{"x":4544,"y":6131},{"x":4654,"y":6131},{"x":4714,"y":6131},{"x":4774,"y":6131},{"x":4834,"y":6131},{"x":4894,"y":6131},{"x":4954,"y":6131},{"x":5014,"y":6131},{"x":5074,"y":6131},{"x":5131,"y":6131},{"x":5212,"y":6131},{"x":5272,"y":6131},{"x":5332,"y":6131},{"x":5392,"y":6131},{"x":5452,"y":6131},{"x":5512,"y":6131},{"x":5572,"y":6131},{"x":5632,"y":6131},{"x":5692,"y":6131},{"x":5752,"y":6131},{"x":5812,"y":6131},{"x":5872,"y":6131},{"x":5932,"y":6131},{"x":5992,"y":6131},{"x":6052,"y":6131},{"x":6112,"y":6131},{"x":6172,"y":6131},{"x":6220,"y":6131},{"x":6265,"y":6131},{"x":6448,"y":6131},{"x":6508,"y":6131},{"x":6569,"y":6131},{"x":6650,"y":6131},{"x":6711,"y":6131},{"x":6881,"y":6131},{"x":7128,"y":6131},{"x":7237,"y":6131},{"x":7330,"y":6131},{"x":7460,"y":6131},{"x":7561,"y":6131},{"x":7683,"y":6131},{"x":7743,"y":6131},{"x":7803,"y":6131},{"x":7863,"y":6131},{"x":7923,"y":6131},{"x":7983,"y":6131},{"x":8043,"y":6131},{"x":8103,"y":6131},{"x":8146,"y":6131},{"x":8189,"y":6131},{"x":8262,"y":6131},{"x":8322,"y":6131},{"x":8382,"y":6131},{"x":8442,"y":6131},{"x":8502,"y":6131},{"x":8562,"y":6131},{"x":8622,"y":6131},{"x":8695,"y":6131},{"x":8756,"y":6131},{"x":8816,"y":6131},{"x":8876,"y":6131},{"x":8936,"y":6131},{"x":8996,"y":6131},{"x":9056,"y":6131},{"x":9116,"y":6131},{"x":9176,"y":6131},{"x":9236,"y":6131},{"x":9296,"y":6131},{"x":9356,"y":6131},{"x":9416,"y":6131},{"x":9476,"y":6131},{"x":9536,"y":6131},{"x":9596,"y":6131},{"x":9656,"y":6131},{"x":9716,"y":6131},{"x":9776,"y":6131},{"x":9829,"y":6131},
{"x":332,"y":6130},{"x":361,"y":6130},{"x":393,"y":6130},{"x":433,"y":6130},{"x":494,"y":6130},{"x":790,"y":6130},{"x":887,"y":6130},{"x":956,"y":6130},{"x":984,"y":6130},{"x":1017,"y":6130},{"x":1333,"y":6130},{"x":1393,"y":6130},{"x":1446,"y":6130},{"x":1478,"y":6130},{"x":1798,"y":6130},{"x":2001,"y":6130},{"x":2021,"y":6130},{"x":2467,"y":6130},{"x":2556,"y":6130},{"x":2588,"y":6130},{"x":2620,"y":6130},{"x":2653,"y":6130},{"x":2722,"y":6130},{"x":2831,"y":6130},{"x":2985,"y":6130},{"x":3277,"y":6130},{"x":3337,"y":6130},{"x":3414,"y":6130},{"x":3552,"y":6130},{"x":3730,"y":6130},{"x":3783,"y":6130},{"x":3835,"y":6130},{"x":3912,"y":6130},{"x":4564,"y":6130},{"x":4735,"y":6130},{"x":4807,"y":6130},{"x":5091,"y":6130},{"x":5285,"y":6130},{"x":5407,"y":6130},{"x":5613,"y":6130},{"x":5759,"y":6130},{"x":5808,"y":6130},{"x":6075,"y":6130},{"x":6213,"y":6130},{"x":6261,"y":6130},{"x":6476,"y":6130},{"x":6691,"y":6130},{"x":7071,"y":6130},{"x":7399,"y":6130},{"x":7448,"y":6130},{"x":7590,"y":6130},{"x":7744,"y":6130},{"x":7804,"y":6130},{"x":7865,"y":6130},{"x":7897,"y":6130},{"x":7926,"y":6130},{"x":7987,"y":6130},{"x":8068,"y":6130},{"x":8343,"y":6130},{"x":8578,"y":6130},{"x":8675,"y":6130},{"x":8724,"y":6130},{"x":8837,"y":6130},{"x":8898,"y":6130},{"x":8946,"y":6130},{"x":9161,"y":6130},{"x":9193,"y":6130},{"x":9262,"y":6130},{"x":9756,"y":6130},
{"x":381,"y":6129},{"x":421,"y":6129},{"x":474,"y":6129},{"x":693,"y":6129},{"x":838,"y":6129},{"x":1470,"y":6129},{"x":1576,"y":6129},{"x":1616,"y":6129},{"x":1786,"y":6129},{"x":1993,"y":6129},{"x":2467,"y":6129},{"x":2588,"y":6129},{"x":2620,"y":6129},{"x":2653,"y":6129},{"x":3256,"y":6129},{"x":3309,"y":6129},{"x":3414,"y":6129},{"x":3750,"y":6129},{"x":3811,"y":6129},{"x":4617,"y":6129},{"x":4949,"y":6129},{"x":5115,"y":6129},{"x":5488,"y":6129},{"x":5557,"y":6129},{"x":5962,"y":6129},{"x":6002,"y":6129},{"x":6464,"y":6129},{"x":6938,"y":6129},{"x":7496,"y":6129},{"x":7691,"y":6129},{"x":7837,"y":6129},{"x":7954,"y":6129},{"x":7978,"y":6129},{"x":8177,"y":6129},{"x":8298,"y":6129},{"x":8554,"y":6129},{"x":9133,"y":6129},{"x":9364,"y":6129},{"x":9469,"y":6129},{"x":9493,"y":6129},
{"x":5601,"y":6128},{"x":9538,"y":6128},
{"x":2394,"y":6127},{"x":3937,"y":6127}
]},
"mark": {"type": "circle", "size": 32, "opacity": 1},
"encoding": {
"x": {"field": "x", "type": "quantitative", "scale": {"domain": [-492, 10332], "nice": false, "zero": false}, "axis": {"title": "Sample #", "values": [0, 2000, 4000, 6000, 8000, 10000], "format": "d", "titlePadding": 4}},
"y": {"field": "y", "type": "quantitative", "scale": {"domain": [6126.15, 6144.85], "nice": false, "zero": false}, "axis": {"title": "ADC Counts", "values": [6127.5, 6130, 6132.5, 6135, 6137.5, 6140, 6142.5], "format": ".1f", "titlePadding": 6}},
"color": {"datum": "Samples\\nμ = 6135.15, σ = 2.24", "type": "nominal", "scale": {"range": ["black"]}, "legend": {"title": null, "orient": "top-right", "offset": 7, "padding": 7, "strokeColor": "#cccccc", "fillColor": "white", "cornerRadius": 3, "labelFontSize": 13.9, "labelFont": "DejaVu Sans", "labelColor": "black", "labelLimit": 0, "symbolSize": 30, "symbolType": "circle", "symbolStrokeWidth": 0, "symbolOffset": 12, "labelOffset": 22}}
}
}
